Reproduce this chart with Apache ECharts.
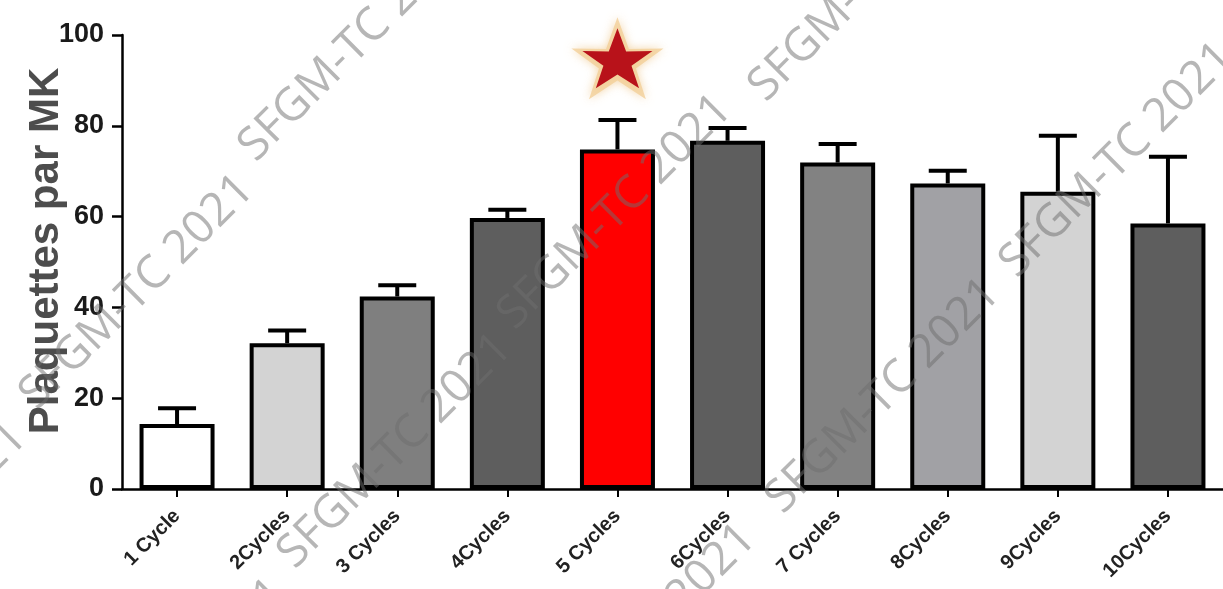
<!DOCTYPE html>
<html>
<head>
<meta charset="utf-8">
<title>Plaquettes par MK</title>
<script src="https://cdn.jsdelivr.net/npm/echarts@6/dist/echarts.min.js"></script>
<style>
  html, body { margin: 0; padding: 0; background: #ffffff; }
  #chart { width: 1223px; height: 589px; }
</style>
</head>
<body>
<div id="chart"></div>
<script>
// Platelets per megakaryocyte after successive culture cycles
const categories = ['1 Cycle', '2Cycles', '3 Cycles', '4Cycles', '5 Cycles',
                    '6Cycles', '7 Cycles', '8Cycles', '9Cycles', '10Cycles'];
const means = [14.3, 32.1, 42.4, 59.7, 74.8, 76.7, 71.9, 67.3, 65.5, 58.5];
const sem   = [3.5, 2.8, 2.5, 1.8, 6.5, 2.8, 4.1, 2.8, 12.3, 14.7];
const barColors = ['#ffffff', '#d3d3d3', '#7f7f7f', '#5e5e5e', '#ff0000',
                   '#5e5e5e', '#828282', '#a1a1a5', '#d3d3d3', '#5e5e5e'];
const yTicks = [0, 20, 40, 60, 80, 100];
// significance star over the best condition
const starCategory = '5 Cycles';
const starValue = 94.9;

// five-point star outline
const STAR = 'path://M50,0 L61.8,35.1 L97.6,34.5 L69.1,56.7 L79.4,90.5 L50,70 L20.6,90.5 L30.9,56.7 L2.4,34.5 L38.2,35.1 Z';

// diagonal "SFGM-TC 2021" stamps laid over the plot
const stampText = 'SFGM-TC 2021';
const stampCenters = [
  [137, 292], [-90, 540], [-129, 125], [356, 44], [866, -16], [615, 212],
  [395, 451], [170, 696], [883, 396], [1117, 160], [639, 641]
];

const chart = echarts.init(document.getElementById('chart'), null, { renderer: 'canvas' });

const errorData = means.map((m, i) => [i, m, m + sem[i]]);

chart.setOption({
  animation: false,
  backgroundColor: '#ffffff',
  grid: { left: 122, top: 35, width: 1107, height: 454, containLabel: false },
  xAxis: {
    type: 'category',
    data: categories,
    axisLine: { show: true, lineStyle: { color: '#000', width: 2.5 } },
    axisTick: { show: true, alignWithLabel: true, length: 8, lineStyle: { color: '#000', width: 2 } },
    axisLabel: {
      interval: 0, rotate: 45, margin: 24,
      fontFamily: 'Liberation Sans, Arial, sans-serif', fontWeight: 'bold',
      fontSize: 20, color: '#222'
    },
    splitLine: { show: false }
  },
  yAxis: {
    type: 'value',
    min: 0, max: 100, interval: 20,
    name: 'Plaquettes par MK',
    nameLocation: 'middle',
    nameGap: 55,
    nameMoveOverlap: false,
    nameRotate: 90,
    nameTextStyle: {
      fontFamily: 'Liberation Sans, Arial, sans-serif', fontWeight: 'bold',
      fontSize: 42, color: '#4d4d4d', padding: [0, 0, 0, 22]
    },
    axisLine: { show: true, lineStyle: { color: '#000', width: 2.5 } },
    axisTick: { show: true, length: 10, lineStyle: { color: '#000', width: 2.5 } },
    axisLabel: {
      margin: 18,
      fontFamily: 'Liberation Sans, Arial, sans-serif', fontWeight: 'bold',
      fontSize: 27, color: '#1a1a1a',
      formatter: v => (yTicks.includes(v) ? String(v) : '')
    },
    splitLine: { show: false }
  },
  series: [
    {
      type: 'custom',
      name: 'SEM',
      z: 1,
      data: errorData,
      renderItem: (params, api) => {
        const base = api.coord([api.value(0), api.value(1)]);
        const top = api.coord([api.value(0), api.value(2)]);
        const style = { stroke: '#000', lineWidth: 4 };
        return {
          type: 'group',
          children: [
            { type: 'line', shape: { x1: base[0], y1: base[1], x2: top[0], y2: top[1] }, style },
            { type: 'line', shape: { x1: top[0] - 19, y1: top[1], x2: top[0] + 19, y2: top[1] }, style }
          ]
        };
      }
    },
    {
      type: 'bar',
      name: 'Moyenne',
      z: 2,
      barWidth: 75,
      data: means.map((m, i) => ({
        value: m,
        itemStyle: { color: barColors[i], borderColor: '#000', borderWidth: 4 }
      }))
    },
    {
      type: 'scatter',
      z: 3,
      clip: false,
      silent: true,
      symbol: STAR,
      symbolSize: [92, 82],
      itemStyle: { color: '#f3cf98', shadowBlur: 10, shadowColor: 'rgba(240,200,140,0.9)' },
      data: [[starCategory, starValue]]
    },
    {
      type: 'scatter',
      z: 4,
      clip: false,
      silent: true,
      symbol: STAR,
      symbolSize: [70, 60],
      itemStyle: { color: '#b8121a', opacity: 1 },
      data: [[starCategory, starValue]]
    }
  ],
  graphic: stampCenters.map(([x, y]) => ({
    type: 'text',
    x, y,
    rotation: Math.PI / 4,
    z: 100,
    silent: true,
    style: {
      text: stampText,
      fill: 'rgba(110,110,110,0.5)',
      font: '46px "Open Sans", "DejaVu Sans", sans-serif',
      align: 'center',
      verticalAlign: 'middle'
    }
  }))
});
</script>
</body>
</html>
